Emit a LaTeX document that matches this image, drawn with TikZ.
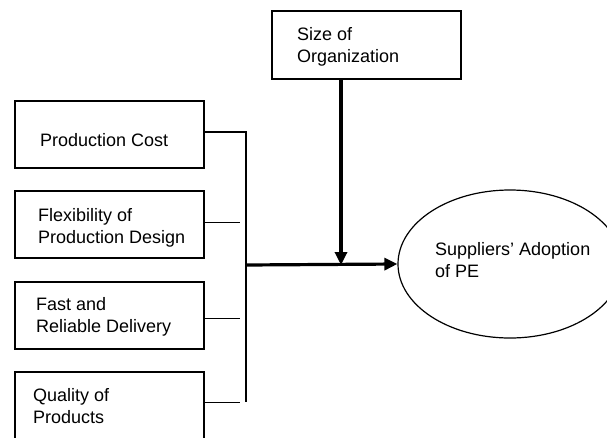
\documentclass[tikz,border=0pt]{standalone}
\usepackage{fontspec}
\setmainfont{Liberation Sans}
\usetikzlibrary{arrows.meta,shapes.geometric}
\begin{document}
\begin{tikzpicture}[x=1pt,y=-1pt,
  factor/.style={draw=black,line width=1.2pt,rectangle,minimum width=189pt,minimum height=67pt,inner sep=0pt},
  lbl/.style={anchor=base west,inner sep=0pt,align=left,font=\fontsize{18}{21.5}\selectfont},
  thin/.style={draw=black,line width=1.2pt},
  thick/.style={draw=black,line width=3.2pt,-{Triangle[length=13pt,width=12pt]}}]
\clip (0,0) rectangle (607,437);
\fill[white] (0,0) rectangle (607,437);
% boxes
\node[factor] (b1) at (109.5,134.5) {};
\node[factor] (b2) at (109.5,224.5) {};
\node[factor] (b3) at (109.5,315.5) {};
\node[factor] (b4) at (109.5,405.5) {};
\node[factor,minimum height=68pt] (sz) at (366.5,45) {};
\node[draw=black,line width=1.2pt,ellipse,minimum width=224pt,minimum height=148pt,inner sep=0pt] (pe) at (510,264) {};
% texts (base = baseline of last line)
\node[lbl] (t1) at (40,146) {Production Cost};
\node[lbl] (t2) at (38,243) {Flexibility of\\Production Design};
\node[lbl] (t3) at (36,332) {Fast and\\Reliable Delivery};
\node[lbl] (t4) at (33,423) {Quality of\\Products};
\node[lbl] (t5) at (297,62) {Size of\\Organization};
\node[lbl] (t6) at (435,277) {Suppliers' Adoption\\of PE};
% bracket
\coordinate (bt) at (246,132);
\coordinate (bb) at (246,402);
\coordinate (bm) at (246,265);
\coordinate (s2) at (240,222.5);
\coordinate (s3) at (240,318.5);
\coordinate (s4) at (240,402.5);
\coordinate (jn) at (341,265);
\draw[thin] (b1.east |- bt) -- (bt) -- (bb);
\draw[thin] (b2.east |- s2) -- (s2);
\draw[thin] (b3.east |- s3) -- (s3);
\draw[thin] (b4.east |- s4) -- (s4);
\draw[thick] (bm) -- (pe.west);
\draw[thick] (jn |- sz.south) -- (jn);
\end{tikzpicture}
\end{document}
